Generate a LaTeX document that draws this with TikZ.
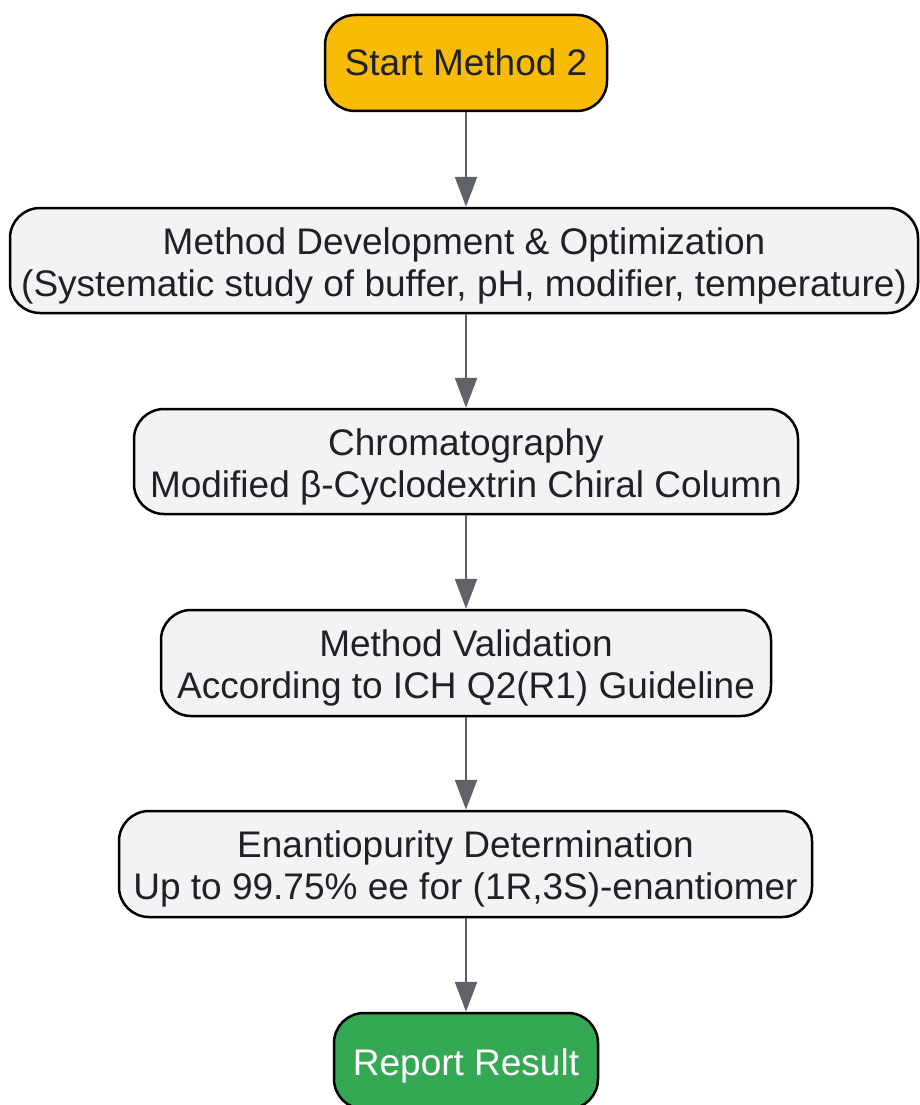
\documentclass[tikz,border=0pt]{standalone}
\usepackage{fontspec}
\setmainfont{Liberation Sans}
\usetikzlibrary{arrows.meta}
\definecolor{startfill}{HTML}{F9BC06}
\definecolor{endfill}{HTML}{34A853}
\definecolor{boxfill}{HTML}{F1F3F4}
\definecolor{arrowc}{HTML}{5F6368}
\definecolor{txt}{HTML}{202124}
\tikzset{
  base/.style={draw=black, line width=2.5pt, rounded corners=30pt, align=center, inner sep=0pt,
    font=\fontsize{37}{42}\selectfont, text=txt},
  procbox/.style={base, fill=boxfill, text height=75pt, text depth=4pt},
  startbox/.style={base, fill=startfill, text height=27pt, text depth=1.5pt},
  endbox/.style={base, fill=endfill, text=white, text height=31pt, text depth=3pt},
  flow/.style={draw=arrowc, line width=2.5pt, -{Triangle[length=30pt,width=22pt]}}
}
\begin{document}
\begin{tikzpicture}[x=1pt,y=-1pt]
\useasboundingbox (0,0) rectangle (920,1105);
\node[startbox, minimum width=282pt, minimum height=96pt] (s) at (466,63) {Start Method 2};
\node[procbox, minimum width=908pt, minimum height=105pt] (b2) at (464,260.5) {Method Development \& Optimization\\(Systematic study of buffer, pH, modifier, temperature)};
\node[procbox, minimum width=664pt, minimum height=105pt] (b3) at (466,461.5) {Chromatography\\Modified β-Cyclodextrin Chiral Column};
\node[procbox, minimum width=610pt, minimum height=106pt] (b4) at (466,663) {Method Validation\\According to ICH Q2(R1) Guideline};
\node[procbox, minimum width=693pt, minimum height=106pt] (b5) at (465.5,864) {Enantiopurity Determination\\Up to 99.75\% ee for (1R,3S)-enantiomer};
\node[endbox, minimum width=264pt, minimum height=96pt] (r) at (466,1061) {Report Result};
\draw[flow] (s.south) -- (s.south |- b2.north);
\draw[flow] (s.south |- b2.south) -- (b3.north);
\draw[flow] (b3.south) -- (b4.north);
\draw[flow] (b4.south) -- (b4.south |- b5.north);
\draw[flow] (b4.south |- b5.south) -- (r.north);
\end{tikzpicture}
\end{document}
